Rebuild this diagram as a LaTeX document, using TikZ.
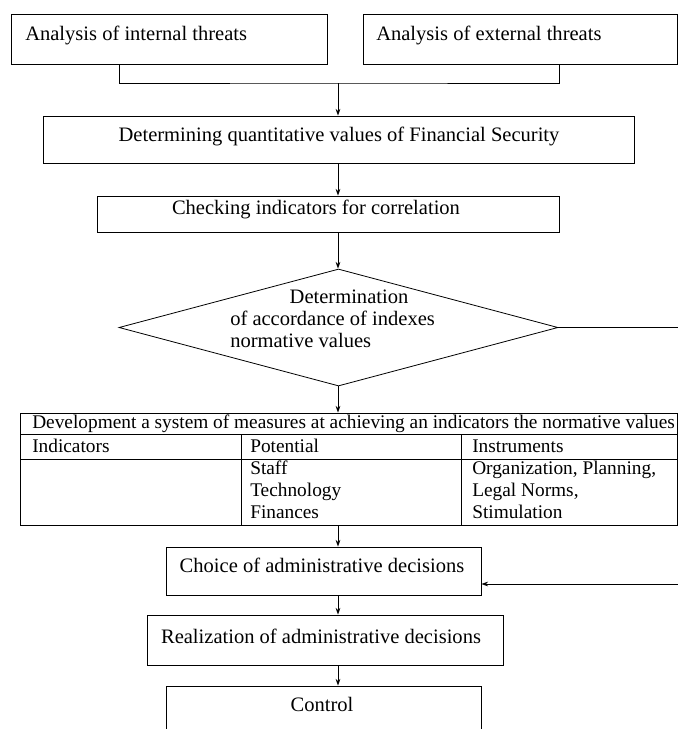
\documentclass[tikz,border=0pt]{standalone}
\usepackage{fontspec}
\setmainfont{Liberation Serif}
\usetikzlibrary{shapes.geometric,arrows.meta}

\tikzset{
  box/.style={draw, line width=0.6pt, inner sep=0pt},
  txt/.style={inner sep=0pt, font=\fontsize{15.4pt}{18pt}\selectfont},
  cell/.style={inner sep=0pt, anchor=base west, font=\fontsize{14.5pt}{17pt}\selectfont},
  arr/.style={line width=0.6pt, -{Stealth[length=5pt,width=3.5pt]}},
  ln/.style={line width=0.6pt}
}

\begin{document}
\begin{tikzpicture}[x=0.75pt, y=-0.75pt]
    \useasboundingbox (0,0) rectangle (678,729);
    \clip (0,0) rectangle (678,729);

    \node[box, minimum width=237pt, minimum height=37.5pt] (intl) at (169,39) {};
    \node[box, minimum width=235.5pt, minimum height=37.5pt] (extl) at (520,39) {};
    \node[box, minimum width=443.25pt, minimum height=35.25pt] (quant) at (338.5,139.5) {};
    \node[box, minimum width=346.5pt, minimum height=27pt] (check) at (328,214) {};
    \node[box, diamond, minimum width=329.25pt, minimum height=87.75pt] (dec) at (338.5,327.5) {};
    \node[box, minimum width=492.75pt, minimum height=84pt] (tab) at (349,469) {};
    \node[box, minimum width=236.25pt, minimum height=36pt] (choice) at (323.5,571) {};
    \node[box, minimum width=267pt, minimum height=37.5pt] (real) at (325,640) {};
    \node[box, minimum width=236.25pt, minimum height=44.25pt] (ctrl) at (323.5,715.5) {};

    \node[txt, anchor=west] (intlt) at (25,35) {Analysis of internal threats};
    \node[txt, anchor=west] (extlt) at (376,35) {Analysis of external threats};
    \node[txt] (quantt) at (339,136) {Determining quantitative values of Financial Security};
    \node[txt] (checkt) at (316,209) {Checking indicators for correlation};
    \node[txt, anchor=base] (dect1) at (349,303) {Determination};
    \node[txt, anchor=base west] (dect2) at (230,325) {of accordance of indexes};
    \node[txt, anchor=base west] (dect3) at (230,347) {normative values};
    \node[txt] (choicet) at (322,565) {Choice of administrative decisions};
    \node[txt] (realt) at (321,636) {Realization of administrative decisions};
    \node[txt] (ctrlt) at (322,704) {Control};

    \draw[ln] (21,434) -- (677,434);
    \draw[ln] (21,459) -- (677,459);
    \foreach \x in {241,461}
      \draw[ln] (\x,434) -- (\x,525);
    \node[cell] (head) at (32,428) {Development a system of measures at achieving an indicators the normative values};
    \foreach \x/\t in {32/Indicators,250/Potential,472/Instruments}
      \node[cell] at (\x,452) {\t};
    \foreach \y/\t in {474/Staff,496/Technology,518/Finances}
      \node[cell] at (250,\y) {\t};
    \foreach \y/\t in {474/{Organization, Planning,},496/{Legal Norms,},518/Stimulation}
      \node[cell] at (472,\y) {\t};

    \coordinate (join) at (338,83);
    \coordinate (dout) at (678,327.5);
    \coordinate (rin) at (678,584);

    \draw[ln] (intl.south -| 119,0) |- (join) -| (extl.south -| 559,0);
    \draw[arr] (join) -- (quant.north -| join);
    \draw[arr] (quant.south -| join) -- (check.north -| join);
    \draw[arr] (check.south -| join) -- (dec.north -| join);
    \draw[arr] (dec.south -| join) -- (tab.north -| join);
    \draw[ln] (dec.east) -- (dout);
    \draw[arr] (tab.south -| join) -- (choice.north -| join);
    \draw[arr] (rin) -- (choice.east |- rin);
    \draw[arr] (choice.south -| join) -- (real.north -| join);
    \draw[arr] (real.south -| join) -- (ctrl.north -| join);
\end{tikzpicture}
\end{document}
